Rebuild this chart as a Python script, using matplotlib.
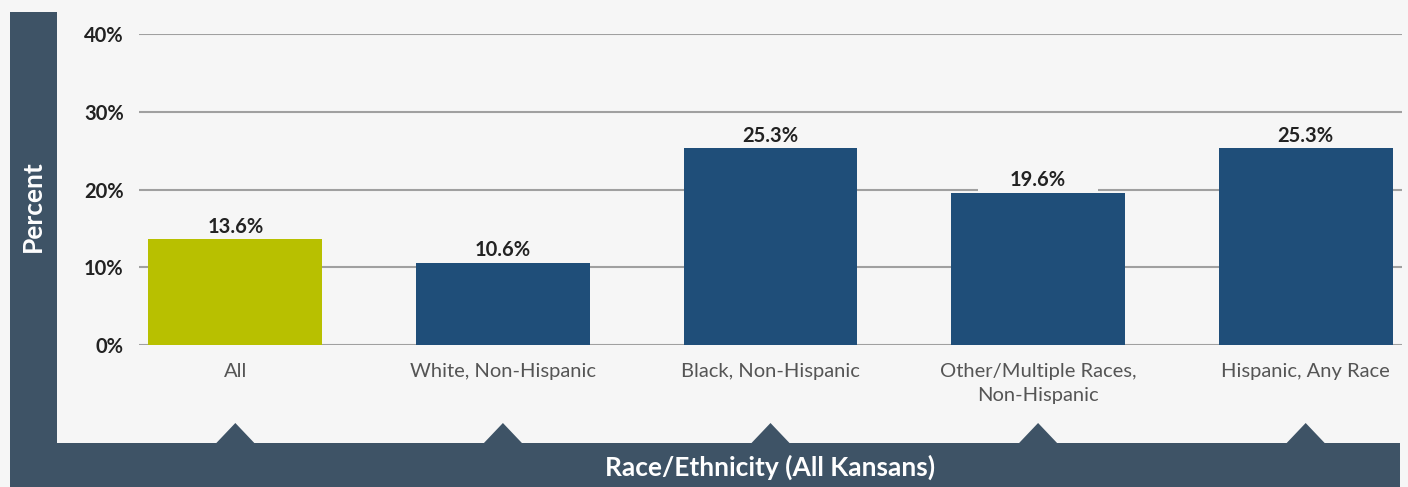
import matplotlib.pyplot as plt
import matplotlib.transforms as mtransforms
from matplotlib.patches import Rectangle, Polygon

plt.rcParams['font.family'] = ['Lato', 'DejaVu Sans']

categories = ["All", "White, Non-Hispanic", "Black, Non-Hispanic",
              "Other/Multiple Races,\nNon-Hispanic", "Hispanic, Any Race"]
values = [13.6, 10.6, 25.3, 19.6, 25.3]
value_labels = ["13.6%", "10.6%", "25.3%", "19.6%", "25.3%"]
yticks = [0, 10, 20, 30, 40]
ytick_labels = ["0%", "10%", "20%", "30%", "40%"]

bg = "#f6f6f6"
slate = "#3e5366"
navy = "#1f4e79"
lime = "#b8c000"

W, H = 1408, 487
fig = plt.figure(figsize=(W / 100, H / 100), dpi=100, facecolor=bg)

# frame: left strip and bottom band
fig.patches.append(Rectangle((10 / W, 0), 47 / W, 475 / H, transform=fig.transFigure,
                             facecolor=slate, edgecolor="none", zorder=0))
fig.patches.append(Rectangle((10 / W, 0), 1390 / W, 44 / H, transform=fig.transFigure,
                             facecolor=slate, edgecolor="none", zorder=0))

ax = fig.add_axes([139 / W, (H - 345) / H, (1402 - 139) / W, (345 - 34) / H])
ax.set_facecolor(bg)

x = range(len(categories))
colors = [lime] + [navy] * (len(categories) - 1)
ax.bar(x, values, width=0.65, color=colors, zorder=3)

ax.set_ylim(0, 40)
ax.set_xlim(-0.36, 4.36)
ax.set_yticks(yticks)
ax.set_yticklabels(ytick_labels, fontsize=14.5, fontweight="bold", color="#222222")
ax.yaxis.grid(True, color="#a0a0a0", linewidth=1.5, zorder=1)
ax.tick_params(axis="y", length=0, pad=11)
ax.tick_params(axis="x", length=0, pad=13)
ax.set_xticks(list(x))
ax.set_xticklabels(categories, fontsize=14.5, color="#555555", linespacing=1.5, va="top")
for s in ax.spines.values():
    s.set_visible(False)

# value labels sit on a background box that breaks the gridlines beside them
for xi, v, lab in zip(x, values, value_labels):
    ax.text(xi, v + 0.3, lab, ha="center", va="bottom", fontsize=14.5,
            fontweight="bold", color="#222222", zorder=2,
            bbox=dict(boxstyle="square,pad=1.6", facecolor=bg, edgecolor="none",
                      mutation_aspect=0.12))

# pointers rising from the bottom band under each category
trans = mtransforms.blended_transform_factory(ax.transData, fig.transFigure)
for xi in x:
    tri = Polygon([(xi - 0.071, 44 / H), (xi + 0.071, 44 / H), (xi, 64 / H)],
                  closed=True, transform=trans, facecolor=slate, edgecolor="none",
                  clip_on=False, zorder=0)
    ax.add_artist(tri)

fig.text(770 / W, 20 / H, "Race/Ethnicity (All Kansans)", ha="center", va="center",
         fontsize=19, fontweight="bold", color="white")
fig.text(33 / W, (H - 206) / H, "Percent", ha="center", va="center", rotation=90,
         fontsize=19, fontweight="bold", color="white")

fig.savefig("out.png", dpi=100, facecolor=bg)
